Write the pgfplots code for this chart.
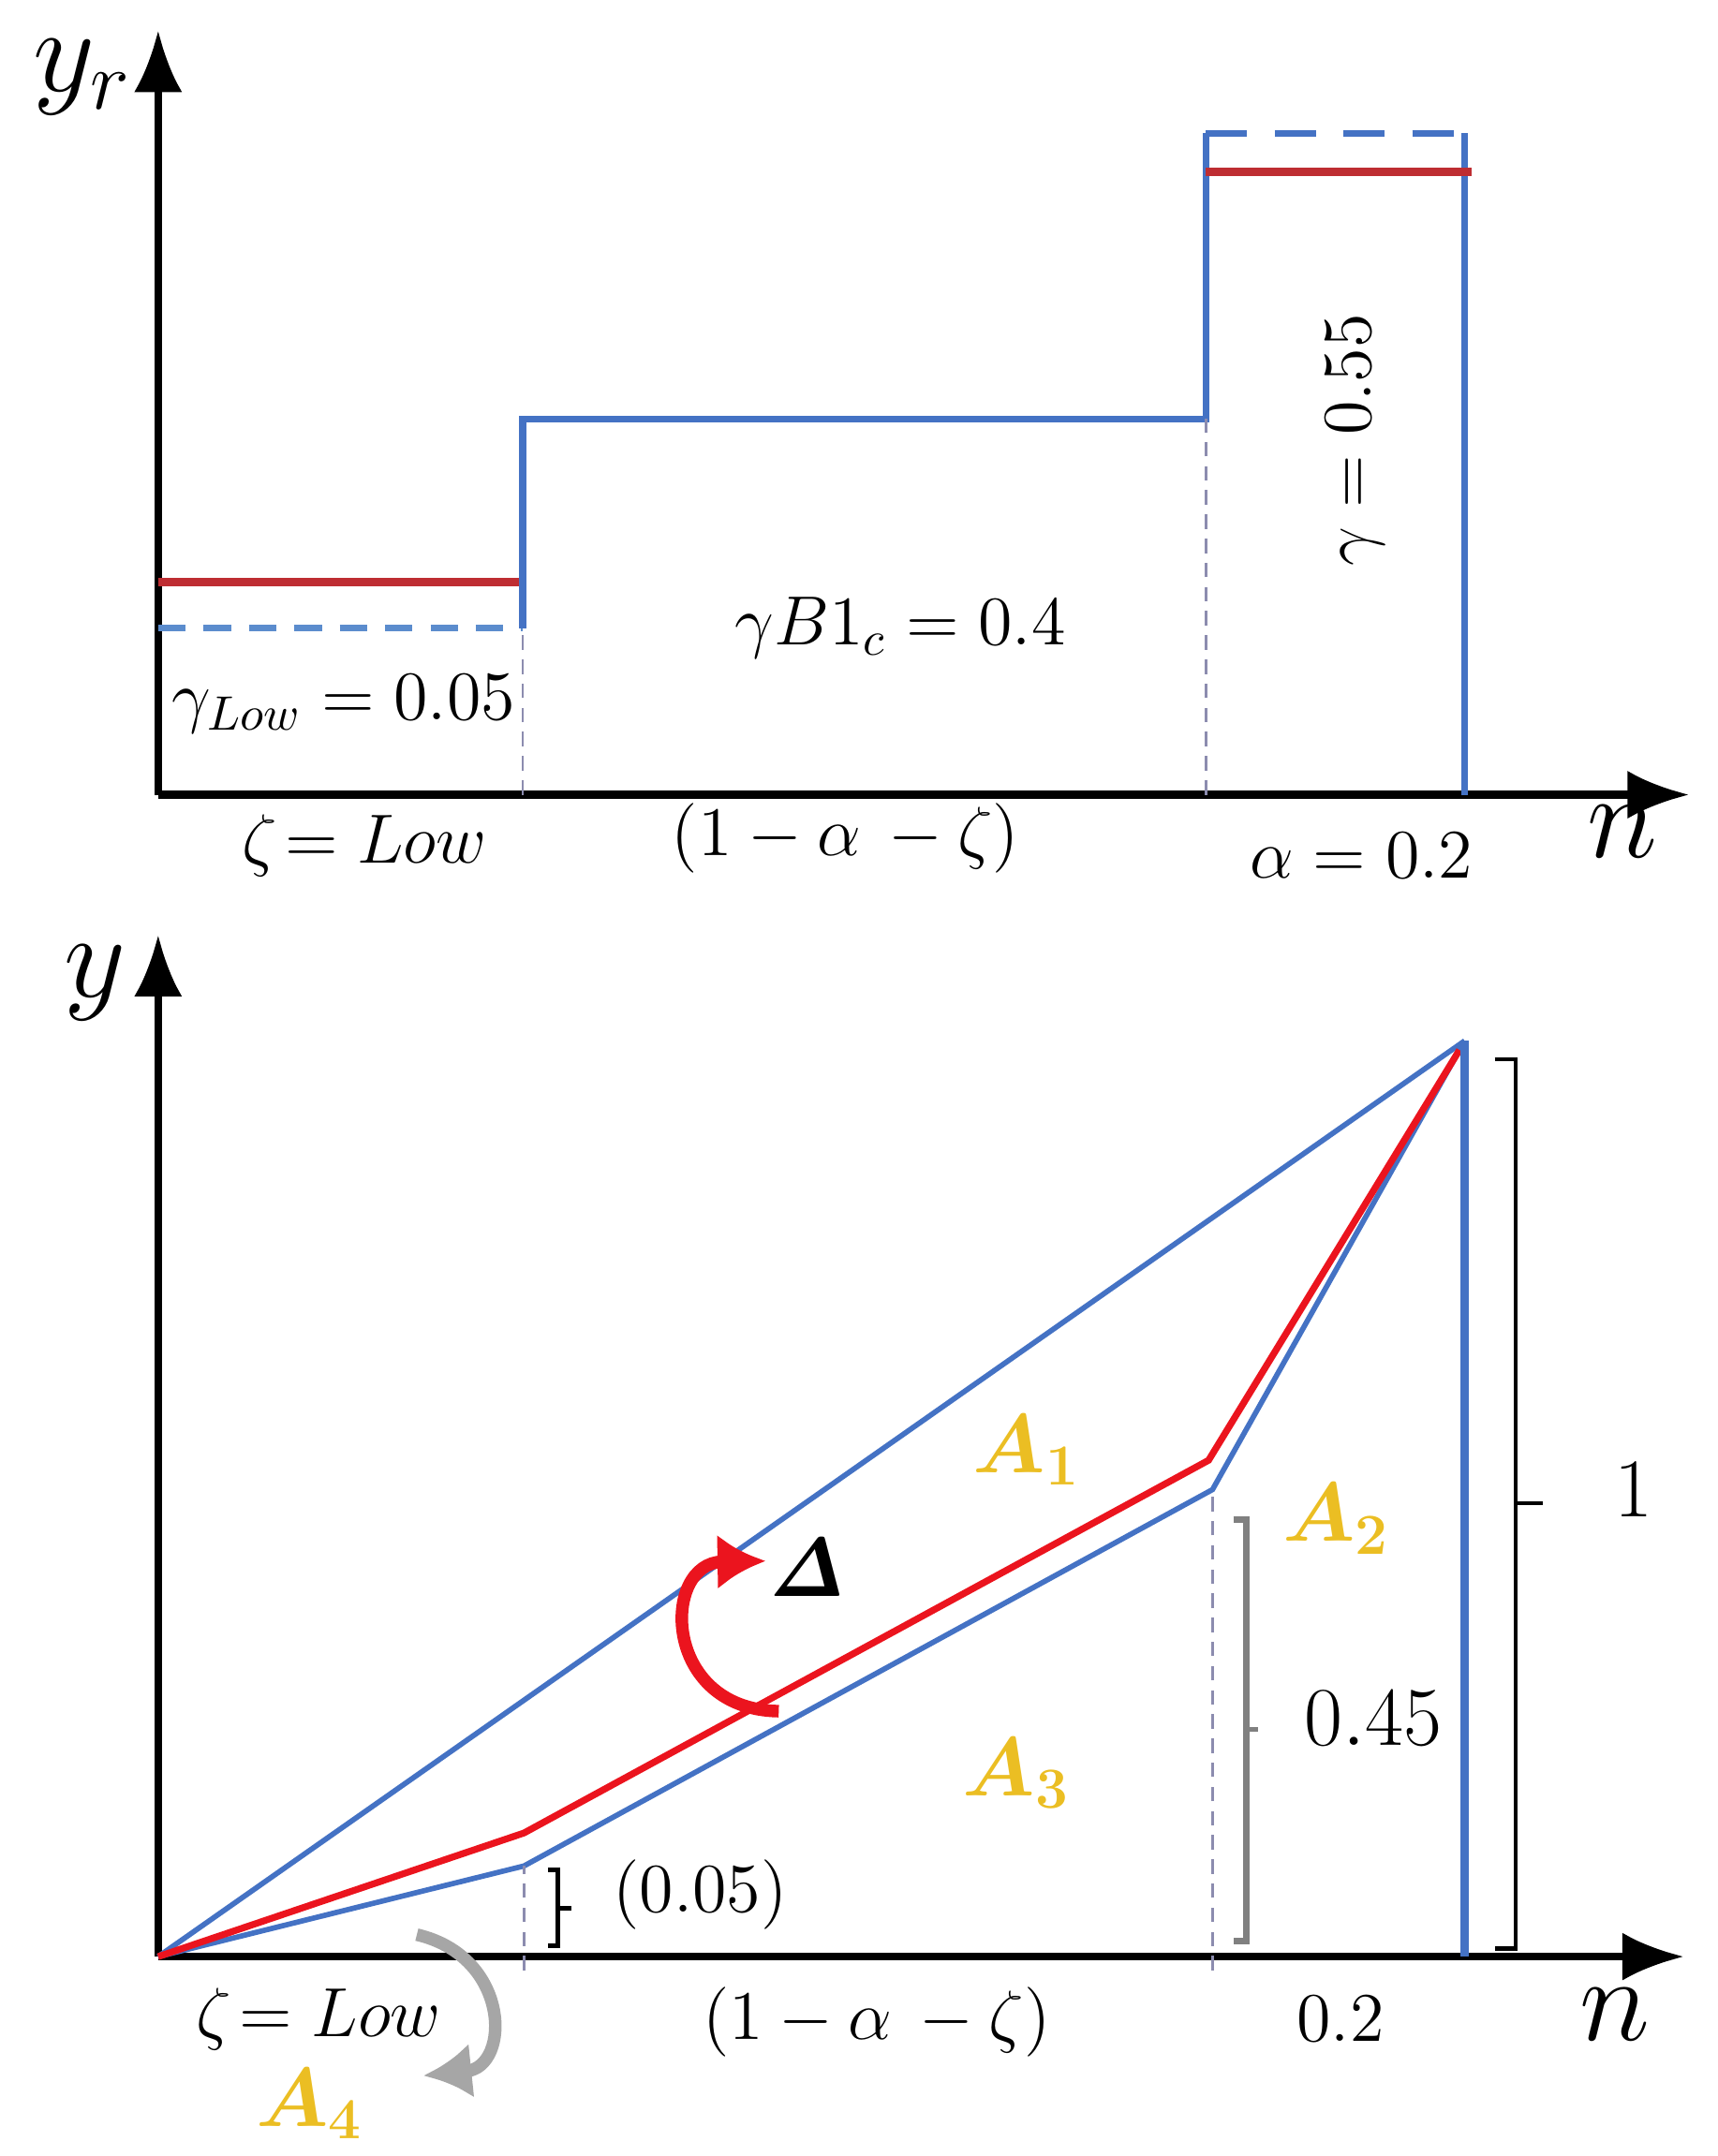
\documentclass[border=0pt]{standalone}
\usepackage{pgfplots}
\pgfplotsset{compat=1.18}
\usepackage{amsmath,amssymb,bm}
\usetikzlibrary{arrows.meta}
\definecolor{TopRed}{RGB}{190,45,50}
\definecolor{LineBlue}{RGB}{68,114,196}
\definecolor{DashBlue}{RGB}{91,140,205}
\definecolor{BotRed}{RGB}{235,20,30}
\definecolor{Gold}{RGB}{235,190,35}
\definecolor{DotGray}{RGB}{140,140,175}
\newcommand{\fs}[1]{\fontsize{#1}{#1}\selectfont}

\begin{document}
\begin{tikzpicture}
\useasboundingbox (0,0) rectangle (12.49,15.68);

\pgfplotsset{
every axis/.append style={
axis lines=left,
axis line style={line width=1.6pt, -{Latex[length=4.5mm,width=3.5mm]}},
xtick=\empty, ytick=\empty,
clip=false,
xmin=0, ymin=0,
}
}

% top: step profile
\begin{axis}[at={(1.15cm,9.90cm)}, anchor=origin, x=9.5cm, y=4.81cm,
xmax=1.172, ymax=1.156]
\addplot[TopRed, line width=1.8pt] coordinates {(0,0.322)(0.279,0.322)};
\addplot[DashBlue, line width=1.5pt, dash pattern=on 0.2cm off 0.13cm] coordinates {(0,0.252)(0.279,0.252)};
\addplot[LineBlue, line width=1.5pt] coordinates {(0.279,0.252)(0.279,0.568)(0.802,0.568)(0.802,1)};
\addplot[LineBlue, line width=1.5pt, dash pattern=on 0.3cm off 0.2cm] coordinates {(0.802,1)(1,1)};
\addplot[LineBlue, line width=1.5pt] coordinates {(1,1)(1,0)};
\addplot[TopRed, line width=1.8pt] coordinates {(0.802,0.942)(1.005,0.942)};
\addplot[DotGray, line width=0.5pt, densely dashed] coordinates {(0.279,0)(0.279,0.252)};
\addplot[DotGray, line width=0.5pt, densely dashed] coordinates {(0.802,0)(0.802,0.568)};

\node[font=\fs{24}] at (axis cs:-0.058,1.085) {$y_r$};
\node[font=\fs{14}] at (axis cs:0.142,0.137) {$\gamma_{Low}=0.05$};
\node[font=\fs{14}] at (axis cs:0.568,0.252) {$\gamma B1_c=0.4$};
\node[font=\fs{14}, rotate=90] at (axis cs:0.916,0.536) {$\gamma=0.55$};
\node[font=\fs{14}] at (axis cs:0.158,-0.077) {$\zeta\!= Low$};
\node[font=\fs{14}] at (axis cs:0.526,-0.066) {$(1-\alpha\,-\zeta)$};
\node[font=\fs{14}] at (axis cs:0.921,-0.092) {$\alpha=0.2$};
\node[font=\fs{28}] at (axis cs:1.121,-0.056) {$n$};
\end{axis}

% bottom: cumulative curves
\begin{axis}[at={(1.15cm,1.45cm)}, anchor=origin, x=9.5cm, y=6.66cm,
xmax=1.168, ymax=1.116]
\addplot[LineBlue, line width=1.1pt] coordinates {(0,0)(1,1)};
\addplot[LineBlue, line width=1.1pt] coordinates {(0,0)(0.28,0.099)(0.807,0.51)(1,1)};
\addplot[BotRed, line width=1.4pt] coordinates {(0,0)(0.28,0.135)(0.804,0.542)(0.996,0.99)};
\addplot[LineBlue, line width=1.9pt] coordinates {(1,0)(1,1)};
\addplot[DotGray, line width=0.5pt, densely dashed] coordinates {(0.28,-0.015)(0.28,0.099)};
\addplot[DotGray, line width=0.5pt, densely dashed] coordinates {(0.807,-0.015)(0.807,0.51)};

% brackets
\draw[black, line width=0.9pt] (axis cs:1.023,0.98)--(axis cs:1.039,0.98)--(axis cs:1.039,0.009)--(axis cs:1.023,0.009);
\draw[black, line width=0.9pt] (axis cs:1.039,0.495)--(axis cs:1.060,0.495);
\draw[gray, line width=1.4pt] (axis cs:0.823,0.477)--(axis cs:0.833,0.477)--(axis cs:0.833,0.017)--(axis cs:0.823,0.017);
\draw[gray, line width=1.0pt] (axis cs:0.833,0.248)--(axis cs:0.842,0.248);
\draw[black, line width=0.9pt] (axis cs:0.2985,0.095)--(axis cs:0.306,0.095)--(axis cs:0.306,0.012)--(axis cs:0.2985,0.012);
\draw[black, line width=0.9pt] (axis cs:0.306,0.053)--(axis cs:0.316,0.053);

% curved arrows
\draw[BotRed, line width=2.6pt, -{Latex[length=3.5mm,width=4mm]}] (axis cs:0.475,0.268) .. controls (axis cs:0.385,0.27) and (axis cs:0.385,0.43) .. (axis cs:0.465,0.432);
\draw[gray!70, line width=2.6pt, -{Latex[length=3.5mm,width=4mm]}] (axis cs:0.198,0.024) .. controls (axis cs:0.27,0.0) and (axis cs:0.27,-0.12) .. (axis cs:0.203,-0.13);

\node[font=\fs{26}] at (axis cs:-0.048,1.063) {$y$};
\node[font=\fs{17}, text=Gold] at (axis cs:0.665,0.553) {$\bm{A_1}$};
\node[font=\fs{17}, text=Gold] at (axis cs:0.902,0.478) {$\bm{A_2}$};
\node[font=\fs{17}, text=Gold] at (axis cs:0.657,0.200) {$\bm{A_3}$};
\node[font=\fs{17}, text=Gold] at (axis cs:0.116,-0.161) {$\bm{A_4}$};
\node[font=\fs{18}] at (axis cs:0.497,0.425) {$\bm{\mathit{\Delta}}$};
\node[font=\fs{17}] at (axis cs:1.129,0.51) {$1$};
\node[font=\fs{17}] at (axis cs:0.930,0.26) {$0.45$};
\node[font=\fs{14}] at (axis cs:0.415,0.068) {$(0.05)$};
\node[font=\fs{14}] at (axis cs:0.123,-0.068) {$\zeta\!= Low$};
\node[font=\fs{14}] at (axis cs:0.550,-0.071) {$(1-\alpha\,-\zeta)$};
\node[font=\fs{14}] at (axis cs:0.905,-0.068) {$0.2$};
\node[font=\fs{28}] at (axis cs:1.115,-0.063) {$n$};
\end{axis}
\end{tikzpicture}
\end{document}
